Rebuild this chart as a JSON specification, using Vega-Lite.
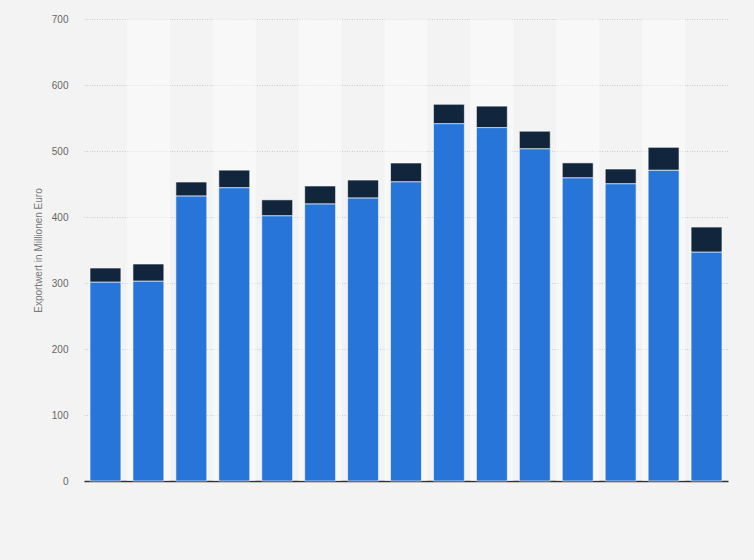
{
  "$schema": "https://vega.github.io/schema/vega-lite/v6.json",
  "width": 644,
  "height": 462,
  "autosize": {"type": "none"},
  "padding": {"left": 84, "top": 19, "right": 26, "bottom": 79},
  "background": "#f3f3f3",
  "config": {
    "view": {"stroke": null},
    "font": "Liberation Sans"
  },
  "data": {
    "values": [
      {"jahr": 2008, "teil": "Anteil A", "wert": 301.5},
      {"jahr": 2008, "teil": "Anteil B", "wert": 21.2},
      {"jahr": 2009, "teil": "Anteil A", "wert": 303},
      {"jahr": 2009, "teil": "Anteil B", "wert": 25.8},
      {"jahr": 2010, "teil": "Anteil A", "wert": 432},
      {"jahr": 2010, "teil": "Anteil B", "wert": 21},
      {"jahr": 2011, "teil": "Anteil A", "wert": 444.5},
      {"jahr": 2011, "teil": "Anteil B", "wert": 26.5},
      {"jahr": 2012, "teil": "Anteil A", "wert": 402},
      {"jahr": 2012, "teil": "Anteil B", "wert": 24},
      {"jahr": 2013, "teil": "Anteil A", "wert": 420},
      {"jahr": 2013, "teil": "Anteil B", "wert": 27},
      {"jahr": 2014, "teil": "Anteil A", "wert": 429},
      {"jahr": 2014, "teil": "Anteil B", "wert": 27},
      {"jahr": 2015, "teil": "Anteil A", "wert": 453.5},
      {"jahr": 2015, "teil": "Anteil B", "wert": 28.3},
      {"jahr": 2016, "teil": "Anteil A", "wert": 541.5},
      {"jahr": 2016, "teil": "Anteil B", "wert": 29.3},
      {"jahr": 2017, "teil": "Anteil A", "wert": 535.5},
      {"jahr": 2017, "teil": "Anteil B", "wert": 32.5},
      {"jahr": 2018, "teil": "Anteil A", "wert": 503.5},
      {"jahr": 2018, "teil": "Anteil B", "wert": 26.5},
      {"jahr": 2019, "teil": "Anteil A", "wert": 459.5},
      {"jahr": 2019, "teil": "Anteil B", "wert": 22.5},
      {"jahr": 2020, "teil": "Anteil A", "wert": 450.5},
      {"jahr": 2020, "teil": "Anteil B", "wert": 22.2},
      {"jahr": 2021, "teil": "Anteil A", "wert": 471},
      {"jahr": 2021, "teil": "Anteil B", "wert": 34.6},
      {"jahr": 2022, "teil": "Anteil A", "wert": 347},
      {"jahr": 2022, "teil": "Anteil B", "wert": 37.8}
    ]
  },
  "encoding": {
    "x": {
      "field": "jahr",
      "type": "ordinal",
      "scale": {"paddingInner": 0, "paddingOuter": 0},
      "axis": {
        "title": null,
        "labels": false,
        "ticks": false,
        "domain": true,
        "domainColor": "#333333",
        "domainWidth": 1.5,
        "grid": false
      }
    }
  },
  "layer": [
    {
      "transform": [{"filter": "datum.teil == 'Anteil A'"}],
      "mark": {"type": "bar", "width": {"band": 1}, "fill": "#ffffff"},
      "encoding": {
        "y": {"datum": 700, "type": "quantitative"},
        "y2": {"datum": 0},
        "fillOpacity": {
          "condition": {"test": "datum.jahr % 2 == 1", "value": 0.45},
          "value": 0
        }
      }
    },
    {
      "mark": {
        "type": "bar",
        "width": {"band": 0.72},
        "stroke": "#ffffff",
        "strokeWidth": 1,
        "strokeOpacity": 0.6
      },
      "encoding": {
        "y": {
          "field": "wert",
          "type": "quantitative",
          "aggregate": "sum",
          "stack": "zero",
          "scale": {"domain": [0, 700], "nice": false},
          "axis": {
            "values": [0, 100, 200, 300, 400, 500, 600, 700],
            "grid": true,
            "gridColor": "#c8c8c8",
            "gridDash": [1, 1.5],
            "domain": false,
            "ticks": false,
            "labelColor": "#666666",
            "labelFontSize": 10,
            "labelPadding": 16,
            "title": "Exportwert in Millionen Euro",
            "titleFontSize": 10,
            "titleFontWeight": "normal",
            "titleColor": "#777777",
            "titlePadding": 8
          }
        },
        "color": {
          "field": "teil",
          "type": "nominal",
          "scale": {"domain": ["Anteil A", "Anteil B"], "range": ["#2775d9", "#11263d"]},
          "legend": null
        },
        "order": {"field": "teil", "sort": "ascending"}
      }
    }
  ]
}
